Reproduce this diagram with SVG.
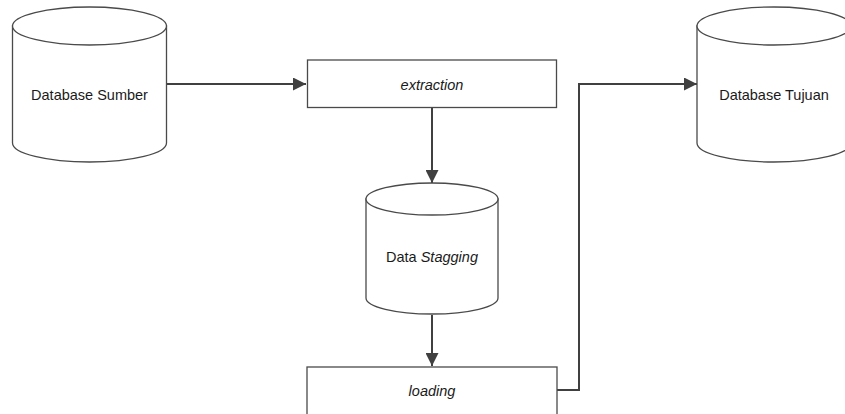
<svg xmlns="http://www.w3.org/2000/svg" width="845" height="414" viewBox="0 0 845 414">
  <style>
    .shape { fill: #ffffff; stroke: #4a4a4a; stroke-width: 1.3; }
    .conn { fill: none; stroke: #404040; stroke-width: 2; }
    .label { font-family: "Liberation Sans", Arial, sans-serif; font-size: 14.5px; fill: #1a1a1a; text-anchor: middle; dominant-baseline: central; }
    .it { font-style: italic; }
  </style>
  <defs>
    <marker id="arrow" viewBox="0 0 13 13" refX="13" refY="6.5" markerWidth="13" markerHeight="13" markerUnits="userSpaceOnUse" orient="auto">
      <path d="M0,0 L13,6.5 L0,13 z" fill="#404040"/>
    </marker>
  </defs>
  <rect width="845" height="414" fill="#ffffff"/>

  <g id="connectors">
    <path class="conn" d="M167,84 L306,84" marker-end="url(#arrow)"/>
    <path class="conn" d="M432,108 L432,183" marker-end="url(#arrow)"/>
    <path class="conn" d="M432,315 L432,366" marker-end="url(#arrow)"/>
    <path class="conn" d="M557,390 L579,390 L579,84 L697,84" marker-end="url(#arrow)"/>
  </g>

  <g id="db-sumber">
    <path class="shape" d="M12.5,26 L12.5,143 A77,19 0 0 0 166.5,143 L166.5,26 Z"/>
    <ellipse class="shape" cx="89.5" cy="26" rx="77" ry="19"/>
    <text class="label" x="89.5" y="95">Database Sumber</text>
  </g>

  <g id="extraction">
    <rect class="shape" x="307.5" y="60" width="249" height="47.5"/>
    <text class="label it" x="432" y="85">extraction</text>
  </g>

  <g id="data-stagging">
    <path class="shape" d="M366,199 L366,298 A66,16 0 0 0 498,298 L498,199 Z"/>
    <ellipse class="shape" cx="432" cy="199" rx="66" ry="16"/>
    <text class="label" x="432" y="257">Data <tspan class="it">Stagging</tspan></text>
  </g>

  <g id="loading">
    <rect class="shape" x="307" y="367" width="250" height="60"/>
    <text class="label it" x="432" y="391">loading</text>
  </g>

  <g id="db-tujuan">
    <path class="shape" d="M697,26 L697,143 A77,19 0 0 0 851,143 L851,26 Z"/>
    <ellipse class="shape" cx="774" cy="26" rx="77" ry="19"/>
    <text class="label" x="774" y="95">Database Tujuan</text>
  </g>
</svg>
